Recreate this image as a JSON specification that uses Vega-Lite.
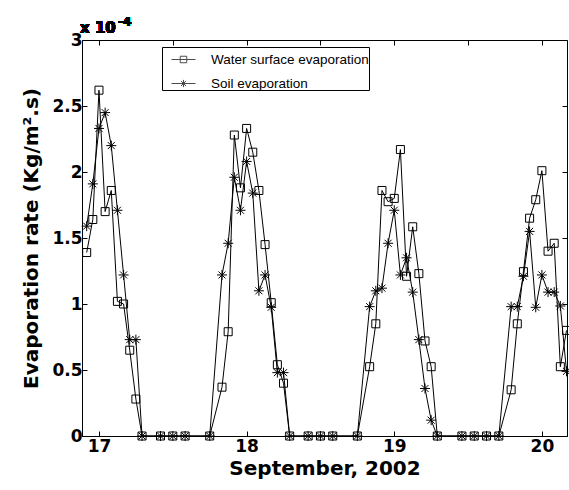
{
  "$schema": "https://vega.github.io/schema/vega-lite/v6.json",
  "width": 485,
  "height": 396,
  "autosize": {"type": "none"},
  "padding": {"left": 82, "top": 40, "right": 2, "bottom": 54},
  "background": "white",
  "config": {
    "view": {"stroke": "black", "strokeWidth": 1},
    "font": "DejaVu Sans",
    "axis": {
      "grid": false,
      "domainColor": "black",
      "tickColor": "black",
      "labelColor": "black",
      "titleColor": "black",
      "labelFont": "DejaVu Sans",
      "labelFontWeight": "bold",
      "labelFontSize": 17,
      "titleFont": "DejaVu Sans",
      "titleFontWeight": "bold",
      "titleFontSize": 20,
      "tickSize": -5
    }
  },
  "datasets": {
    "evap": [
      {"t": 16.9167, "series": "Water surface evaporation", "rate": 1.39},
      {"t": 16.9583, "series": "Water surface evaporation", "rate": 1.64},
      {"t": 17.0, "series": "Water surface evaporation", "rate": 2.62},
      {"t": 17.0417, "series": "Water surface evaporation", "rate": 1.70},
      {"t": 17.0833, "series": "Water surface evaporation", "rate": 1.86},
      {"t": 17.125, "series": "Water surface evaporation", "rate": 1.02},
      {"t": 17.1667, "series": "Water surface evaporation", "rate": 1.00},
      {"t": 17.2083, "series": "Water surface evaporation", "rate": 0.65},
      {"t": 17.25, "series": "Water surface evaporation", "rate": 0.28},
      {"t": 17.2917, "series": "Water surface evaporation", "rate": 0},
      {"t": 17.4167, "series": "Water surface evaporation", "rate": 0},
      {"t": 17.5, "series": "Water surface evaporation", "rate": 0},
      {"t": 17.5833, "series": "Water surface evaporation", "rate": 0},
      {"t": 17.75, "series": "Water surface evaporation", "rate": 0},
      {"t": 17.8333, "series": "Water surface evaporation", "rate": 0.37},
      {"t": 17.875, "series": "Water surface evaporation", "rate": 0.79},
      {"t": 17.9167, "series": "Water surface evaporation", "rate": 2.28},
      {"t": 17.9583, "series": "Water surface evaporation", "rate": 1.88},
      {"t": 18.0, "series": "Water surface evaporation", "rate": 2.33},
      {"t": 18.0417, "series": "Water surface evaporation", "rate": 2.15},
      {"t": 18.0833, "series": "Water surface evaporation", "rate": 1.86},
      {"t": 18.125, "series": "Water surface evaporation", "rate": 1.45},
      {"t": 18.1667, "series": "Water surface evaporation", "rate": 1.01},
      {"t": 18.2083, "series": "Water surface evaporation", "rate": 0.54},
      {"t": 18.25, "series": "Water surface evaporation", "rate": 0.40},
      {"t": 18.2917, "series": "Water surface evaporation", "rate": 0},
      {"t": 18.4167, "series": "Water surface evaporation", "rate": 0},
      {"t": 18.5, "series": "Water surface evaporation", "rate": 0},
      {"t": 18.5833, "series": "Water surface evaporation", "rate": 0},
      {"t": 18.75, "series": "Water surface evaporation", "rate": 0},
      {"t": 18.8333, "series": "Water surface evaporation", "rate": 0.525},
      {"t": 18.875, "series": "Water surface evaporation", "rate": 0.85},
      {"t": 18.9167, "series": "Water surface evaporation", "rate": 1.86},
      {"t": 18.9583, "series": "Water surface evaporation", "rate": 1.775},
      {"t": 19.0, "series": "Water surface evaporation", "rate": 1.80},
      {"t": 19.0417, "series": "Water surface evaporation", "rate": 2.17},
      {"t": 19.0833, "series": "Water surface evaporation", "rate": 1.21},
      {"t": 19.125, "series": "Water surface evaporation", "rate": 1.585},
      {"t": 19.1667, "series": "Water surface evaporation", "rate": 1.23},
      {"t": 19.2083, "series": "Water surface evaporation", "rate": 0.72},
      {"t": 19.25, "series": "Water surface evaporation", "rate": 0.525},
      {"t": 19.2917, "series": "Water surface evaporation", "rate": 0},
      {"t": 19.4583, "series": "Water surface evaporation", "rate": 0},
      {"t": 19.5417, "series": "Water surface evaporation", "rate": 0},
      {"t": 19.625, "series": "Water surface evaporation", "rate": 0},
      {"t": 19.7083, "series": "Water surface evaporation", "rate": 0},
      {"t": 19.7917, "series": "Water surface evaporation", "rate": 0.35},
      {"t": 19.8333, "series": "Water surface evaporation", "rate": 0.85},
      {"t": 19.875, "series": "Water surface evaporation", "rate": 1.245},
      {"t": 19.9167, "series": "Water surface evaporation", "rate": 1.65},
      {"t": 19.9583, "series": "Water surface evaporation", "rate": 1.79},
      {"t": 20.0, "series": "Water surface evaporation", "rate": 2.01},
      {"t": 20.0417, "series": "Water surface evaporation", "rate": 1.40},
      {"t": 20.0833, "series": "Water surface evaporation", "rate": 1.46},
      {"t": 20.125, "series": "Water surface evaporation", "rate": 0.525},
      {"t": 20.1667, "series": "Water surface evaporation", "rate": 0.80},

      {"t": 16.9167, "series": "Soil evaporation", "rate": 1.59},
      {"t": 16.9583, "series": "Soil evaporation", "rate": 1.91},
      {"t": 17.0, "series": "Soil evaporation", "rate": 2.33},
      {"t": 17.0417, "series": "Soil evaporation", "rate": 2.45},
      {"t": 17.0833, "series": "Soil evaporation", "rate": 2.20},
      {"t": 17.125, "series": "Soil evaporation", "rate": 1.71},
      {"t": 17.1667, "series": "Soil evaporation", "rate": 1.22},
      {"t": 17.2083, "series": "Soil evaporation", "rate": 0.73},
      {"t": 17.25, "series": "Soil evaporation", "rate": 0.73},
      {"t": 17.2917, "series": "Soil evaporation", "rate": 0},
      {"t": 17.4167, "series": "Soil evaporation", "rate": 0},
      {"t": 17.5, "series": "Soil evaporation", "rate": 0},
      {"t": 17.5833, "series": "Soil evaporation", "rate": 0},
      {"t": 17.75, "series": "Soil evaporation", "rate": 0},
      {"t": 17.8333, "series": "Soil evaporation", "rate": 1.22},
      {"t": 17.875, "series": "Soil evaporation", "rate": 1.46},
      {"t": 17.9167, "series": "Soil evaporation", "rate": 1.96},
      {"t": 17.9583, "series": "Soil evaporation", "rate": 1.71},
      {"t": 18.0, "series": "Soil evaporation", "rate": 2.08},
      {"t": 18.0417, "series": "Soil evaporation", "rate": 1.84},
      {"t": 18.0833, "series": "Soil evaporation", "rate": 1.10},
      {"t": 18.125, "series": "Soil evaporation", "rate": 1.22},
      {"t": 18.1667, "series": "Soil evaporation", "rate": 0.975},
      {"t": 18.2083, "series": "Soil evaporation", "rate": 0.48},
      {"t": 18.25, "series": "Soil evaporation", "rate": 0.48},
      {"t": 18.2917, "series": "Soil evaporation", "rate": 0},
      {"t": 18.4167, "series": "Soil evaporation", "rate": 0},
      {"t": 18.5, "series": "Soil evaporation", "rate": 0},
      {"t": 18.5833, "series": "Soil evaporation", "rate": 0},
      {"t": 18.75, "series": "Soil evaporation", "rate": 0},
      {"t": 18.8333, "series": "Soil evaporation", "rate": 0.98},
      {"t": 18.875, "series": "Soil evaporation", "rate": 1.10},
      {"t": 18.9167, "series": "Soil evaporation", "rate": 1.12},
      {"t": 18.9583, "series": "Soil evaporation", "rate": 1.46},
      {"t": 19.0, "series": "Soil evaporation", "rate": 1.71},
      {"t": 19.0417, "series": "Soil evaporation", "rate": 1.22},
      {"t": 19.0833, "series": "Soil evaporation", "rate": 1.35},
      {"t": 19.125, "series": "Soil evaporation", "rate": 1.09},
      {"t": 19.1667, "series": "Soil evaporation", "rate": 0.73},
      {"t": 19.2083, "series": "Soil evaporation", "rate": 0.36},
      {"t": 19.25, "series": "Soil evaporation", "rate": 0.12},
      {"t": 19.2917, "series": "Soil evaporation", "rate": 0},
      {"t": 19.4583, "series": "Soil evaporation", "rate": 0},
      {"t": 19.5417, "series": "Soil evaporation", "rate": 0},
      {"t": 19.625, "series": "Soil evaporation", "rate": 0},
      {"t": 19.7083, "series": "Soil evaporation", "rate": 0},
      {"t": 19.7917, "series": "Soil evaporation", "rate": 0.98},
      {"t": 19.8333, "series": "Soil evaporation", "rate": 0.98},
      {"t": 19.875, "series": "Soil evaporation", "rate": 1.21},
      {"t": 19.9167, "series": "Soil evaporation", "rate": 1.55},
      {"t": 19.9583, "series": "Soil evaporation", "rate": 0.975},
      {"t": 20.0, "series": "Soil evaporation", "rate": 1.22},
      {"t": 20.0417, "series": "Soil evaporation", "rate": 1.09},
      {"t": 20.0833, "series": "Soil evaporation", "rate": 1.09},
      {"t": 20.125, "series": "Soil evaporation", "rate": 0.985},
      {"t": 20.1667, "series": "Soil evaporation", "rate": 0.49}
    ]
  },
  "data": {"name": "evap"},
  "layer": [
    {
      "encoding": {
        "x": {
          "field": "t",
          "type": "quantitative",
          "scale": {"domain": [16.885, 20.17], "nice": false, "zero": false},
          "axis": {"values": [17, 18, 19, 20], "title": "September, 2002", "labelPadding": 7, "titlePadding": 4, "format": "d"}
        },
        "y": {
          "field": "rate",
          "type": "quantitative",
          "scale": {"domain": [0, 3], "nice": false},
          "axis": {"values": [0, 0.5, 1, 1.5, 2, 2.5, 3], "format": "~g", "title": "Evaporation rate (Kg/m².s)", "labelPadding": 5, "titlePadding": 10}
        }
      },
      "layer": [
        {
          "mark": {"type": "line", "stroke": "black", "strokeWidth": 1},
          "encoding": {"detail": {"field": "series"}}
        },
        {
          "mark": {"type": "point", "filled": false, "stroke": "black", "strokeWidth": 1, "size": 100, "opacity": 1},
          "encoding": {
            "shape": {
              "field": "series",
              "type": "nominal",
              "scale": {
                "domain": ["Water surface evaporation", "Soil evaporation"],
                "range": [
                  "M-0.8,-0.8H0.8V0.8H-0.8Z",
                  "M-1,0H1M0,-1V1M-0.7,-0.7L0.7,0.7M-0.7,0.7L0.7,-0.7"
                ]
              },
              "legend": null
            }
          }
        },
        {
          "mark": {"type": "point", "filled": false, "stroke": "black", "strokeWidth": 1, "size": 0},
          "encoding": {
            "shape": {
              "field": "series",
              "type": "nominal",
              "scale": {
                "domain": ["Water surface evaporation", "Soil evaporation"],
                "range": [
                  "M-1,0H1M-0.27,-0.27H0.27V0.27H-0.27Z",
                  "M-1,0H1M0,-0.3V0.3M-0.21,-0.21L0.21,0.21M-0.21,0.21L0.21,-0.21"
                ]
              },
              "legend": {
                "title": null,
                "orient": "none",
                "legendX": 80,
                "legendY": 7,
                "direction": "vertical",
                "strokeColor": "black",
                "fillColor": "white",
                "padding": 0,
                "rowPadding": 5,
                "symbolOffset": 9,
                "labelOffset": 15,
                "labelLimit": 0,
                "labelFont": "Liberation Sans",
                "labelFontSize": 13.5,
                "labelColor": "black",
                "symbolSize": 576,
                "symbolStrokeColor": "black",
                "symbolStrokeWidth": 1,
                "encode": {
                  "symbols": {
                    "update": {
                      "size": {"value": 576},
                      "fill": {"value": "transparent"},
                      "stroke": {"value": "black"},
                      "opacity": {"value": 1}
                    }
                  }
                }
              }
            }
          }
        },
        {
          "mark": {"type": "text", "text": "x 10", "align": "left", "baseline": "alphabetic", "dx": -2, "dy": -7, "font": "DejaVu Sans", "fontWeight": "bold", "fontSize": 15, "color": "black"},
          "encoding": {"x": {"datum": 16.885}, "y": {"datum": 3}}
        },
        {
          "mark": {"type": "text", "text": "-4", "align": "left", "baseline": "alphabetic", "dx": 36, "dy": -14, "font": "DejaVu Sans", "fontWeight": "bold", "fontSize": 12, "color": "black"},
          "encoding": {"x": {"datum": 16.885}, "y": {"datum": 3}}
        }
      ],
      "resolve": {"scale": {"shape": "independent"}}
    },
    {
      "mark": {"type": "point", "opacity": 0},
      "encoding": {
        "x": {
          "field": "t",
          "type": "quantitative",
          "axis": {"orient": "top", "values": [17, 17.5, 18, 18.5, 19, 19.5, 20], "labels": false, "domain": false, "title": null}
        },
        "y": {
          "field": "rate",
          "type": "quantitative",
          "axis": {"orient": "right", "values": [0, 0.5, 1, 1.5, 2, 2.5, 3], "labels": false, "domain": false, "title": null}
        }
      }
    }
  ],
  "resolve": {"axis": {"x": "independent", "y": "independent"}}
}
